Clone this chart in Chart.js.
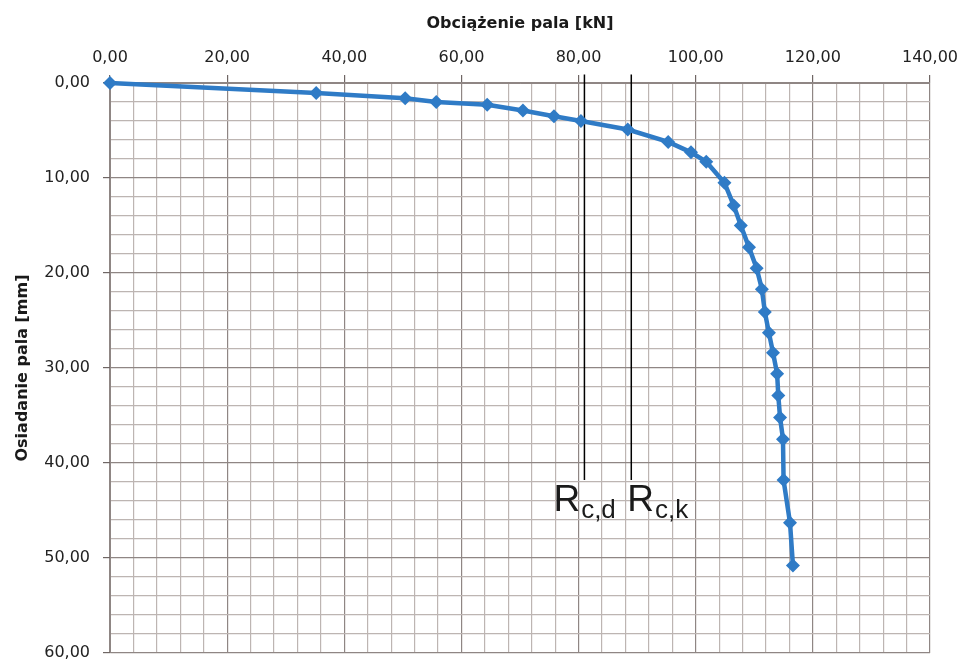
<!DOCTYPE html>
<html>
<head>
<meta charset="utf-8">
<script src="https://cdn.jsdelivr.net/npm/chart.js@4/dist/chart.umd.min.js"></script>
<style>
  html, body { margin: 0; padding: 0; background: #fff; }
  canvas { display: block; }
</style>
</head>
<body>
<canvas id="wykres" width="960" height="662"></canvas>
<script>
// obciazenie pala [kN] i osiadanie [mm]
const obciazenie = [0, 35.2, 50.4, 55.7, 64.4, 70.5, 75.8, 80.4, 88.4, 95.3, 99.2, 101.8, 104.9, 106.5,
    107.7, 109.1, 110.4, 111.3, 111.8, 112.5, 113.2, 113.9, 114.1, 114.4, 114.9, 115.0, 116.1, 116.6];
const osiadanie = [0, 1.05, 1.6, 2.0, 2.3, 2.9, 3.5, 4.0, 4.9, 6.2, 7.3, 8.3, 10.5, 12.9,
    15.0, 17.3, 19.5, 21.7, 24.1, 26.3, 28.4, 30.6, 32.9, 35.2, 37.5, 41.8, 46.3, 50.8];

// nosnosci Rc,d i Rc,k
const nosnosci = [81.0, 89.0];
const nosnosciOpis = [['R', 'c,d'], ['R', 'c,k']];
const nosnosciZakres = [-0.9, 41.8];

const osX = { min: 0, max: 140, krok: 4, glowny: 20 };
const osY = { min: 0, max: 60, krok: 2, glowny: 10 };

const czcionka = 'Tahoma, "DejaVu Sans", Verdana, sans-serif';

function formatuj(v){
    return v.toFixed(2).replace('.', ',');
}

function czyGlowny(v, co){
    return Math.abs(v / co - Math.round(v / co)) < 1e-6;
}

let punkty = obciazenie.map((x, i) => ({ x: x, y: osiadanie[i] }));

let zbiory = [
    {
        data: punkty,
        showLine: true,
        borderColor: '#2f7bc6',
        backgroundColor: '#2f7bc6',
        borderWidth: 4.5,
        pointStyle: 'rectRot',
        pointRadius: 7,
        pointBorderWidth: 0,
        clip: false,
        order: 0
    }
];

nosnosci.forEach((r) => {
    zbiory.push({
        data: [{ x: r, y: nosnosciZakres[0] }, { x: r, y: nosnosciZakres[1] }],
        showLine: true,
        borderColor: '#000',
        borderWidth: 1.5,
        pointRadius: 0,
        clip: false,
        order: 1
    });
});

const opisyNosnosci = {
    id: 'opisyNosnosci',
    afterDatasetsDraw(chart){
        const ctx = chart.ctx;
        const sx = chart.scales.x;
        const sy = chart.scales.y;
        const przesuniecia = [-31, -4];
        ctx.save();
        ctx.fillStyle = '#1a1a1a';
        ctx.textBaseline = 'alphabetic';
        ctx.textAlign = 'left';
        nosnosci.forEach((r, i) => {
            let px = sx.getPixelForValue(r) + przesuniecia[i];
            let py = sy.getPixelForValue(nosnosciZakres[1]) + 31;
            ctx.font = '37px "Liberation Sans", Arial, sans-serif';
            ctx.fillText(nosnosciOpis[i][0], px, py);
            let w = ctx.measureText(nosnosciOpis[i][0]).width;
            ctx.font = '26px "Liberation Sans", Arial, sans-serif';
            ctx.fillText(nosnosciOpis[i][1], px + w + 1, py + 7);
        });
        ctx.restore();
    }
};

new Chart(document.getElementById('wykres'), {
    type: 'scatter',
    data: { datasets: zbiory },
    plugins: [opisyNosnosci],
    options: {
        responsive: false,
        animation: false,
        layout: { padding: { left: 4, right: 30, top: 4, bottom: 9 } },
        plugins: {
            legend: { display: false },
            tooltip: { enabled: false }
        },
        scales: {
            x: {
                type: 'linear',
                position: 'top',
                min: osX.min,
                max: osX.max,
                afterFit(scale){
                    scale.height = 79;
                    scale.paddingLeft = 0;
                    scale.paddingRight = 0;
                },
                afterBuildTicks(scale){
                    let t = [];
                    for (let v = osX.min; v <= osX.max + 1e-9; v += osX.krok) t.push({ value: v });
                    scale.ticks = t;
                },
                ticks: {
                    autoSkip: false,
                    maxRotation: 0,
                    color: '#222',
                    font: { family: czcionka, size: 16 },
                    padding: 8,
                    callback: (v) => czyGlowny(v, osX.glowny) ? formatuj(v) : ''
                },
                grid: {
                    color: (c) => czyGlowny(c.tick.value, osX.glowny) ? '#8f8684' : '#bdb5b2',
                    tickColor: (c) => czyGlowny(c.tick.value, osX.glowny) ? '#6f6664' : 'rgba(0,0,0,0)',
                    tickLength: 8,
                    lineWidth: 1.2
                },
                border: { color: '#8f8684' },
                title: {
                    display: true,
                    text: 'Obciążenie pala [kN]',
                    color: '#1a1a1a',
                    font: { family: czcionka, size: 16, weight: 'bold' },
                    padding: { top: 10, bottom: 0 }
                }
            },
            y: {
                type: 'linear',
                reverse: true,
                min: osY.min,
                max: osY.max,
                afterFit(scale){
                    scale.width = 106;
                    scale.paddingTop = 0;
                    scale.paddingBottom = 0;
                },
                afterBuildTicks(scale){
                    let t = [];
                    for (let v = osY.min; v <= osY.max + 1e-9; v += osY.krok) t.push({ value: v });
                    scale.ticks = t;
                },
                ticks: {
                    autoSkip: false,
                    color: '#222',
                    font: { family: czcionka, size: 16 },
                    padding: 13,
                    callback: (v) => czyGlowny(v, osY.glowny) ? formatuj(v) : ''
                },
                grid: {
                    color: (c) => czyGlowny(c.tick.value, osY.glowny) ? '#8f8684' : '#bdb5b2',
                    tickColor: (c) => czyGlowny(c.tick.value, osY.glowny) ? '#6f6664' : 'rgba(0,0,0,0)',
                    tickLength: 7,
                    lineWidth: 1.2
                },
                border: { color: '#8f8684' },
                title: {
                    display: true,
                    text: 'Osiadanie pala [mm]',
                    color: '#1a1a1a',
                    font: { family: czcionka, size: 16, weight: 'bold' },
                    padding: { top: 9, bottom: 0 }
                }
            }
        }
    }
});
</script>
</body>
</html>
